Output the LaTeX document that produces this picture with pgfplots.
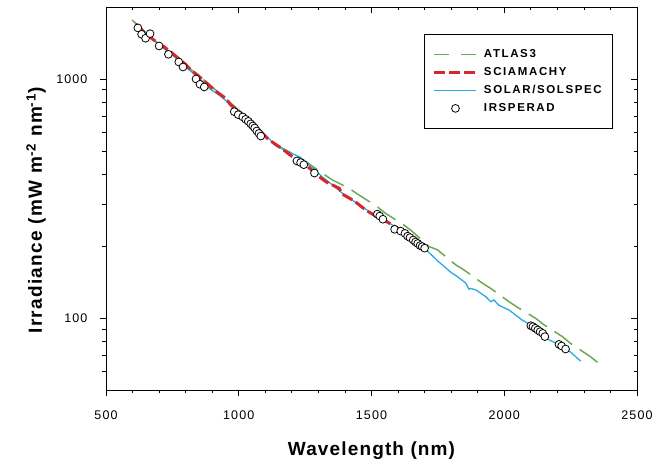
\documentclass[border=0pt]{standalone}
\usepackage{fontspec}
\setmainfont{Liberation Sans}
\newfontfamily\tickfont[LetterSpace=9]{Liberation Sans}
\newfontfamily\xlabfont[LetterSpace=6]{Liberation Sans}
\newfontfamily\ylabfont[LetterSpace=7]{Liberation Sans}
\newfontfamily\legfont[LetterSpace=14]{Liberation Sans}
\usepackage{pgfplots}
\pgfplotsset{compat=1.18}
\definecolor{atlas}{RGB}{110,168,84}
\definecolor{scia}{RGB}{214,38,46}
\definecolor{solspec}{RGB}{41,171,226}
\begin{document}
\begin{tikzpicture}
\useasboundingbox (-106pt,-73pt) rectangle (558pt,390pt);
% top / right inward ticks
\begin{axis}[
  at={(0pt,0pt)}, anchor=south west,
  scale only axis, width=531pt, height=383pt,
  xmin=500, xmax=2500, ymode=log, ymin=50, ymax=2000,
  xtick={500,1000,1500,2000,2500},
  minor x tick num=4,
  ytick={100,1000},
  minor ytick={60,70,80,90,200,300,400,500,600,700,800,900},
  major tick length=6pt, minor tick length=3.5pt,
  axis line style={line width=0.8pt},
  every tick/.style={black, line width=0.8pt},
  xtick pos=right, ytick pos=right, tick align=inside,
  xticklabels={}, yticklabels={}]
\end{axis}
\begin{axis}[
  at={(0pt,0pt)}, anchor=south west,
  scale only axis, width=531pt, height=383pt,
  xmin=500, xmax=2500, ymode=log, ymin=50, ymax=2000,
  xtick={500,1000,1500,2000,2500},
  minor x tick num=4,
  ytick={100,1000},
  minor ytick={60,70,80,90,200,300,400,500,600,700,800,900},
  major tick length=6pt, minor tick length=3.5pt,
  axis line style={line width=0.8pt},
  every tick/.style={black, line width=0.8pt},
  xtick pos=left, ytick pos=left, tick align=outside,
  xticklabels={500,1000,1500,2000,2500},
  yticklabels={100,1000},
  ticklabel style={font=\tickfont\fontsize{12.5}{14}\selectfont},
  xticklabel style={anchor=north, yshift=-11pt},
  yticklabel style={anchor=east, xshift=-9pt},
  xlabel={Wavelength (nm)},
  ylabel={Irradiance (mW m\textsuperscript{-2} nm\textsuperscript{-1})},
  xlabel style={font=\xlabfont\bfseries\fontsize{19}{22}\selectfont, at={(axis description cs:0.5,0)}, anchor=center, yshift=-61pt},
  ylabel style={font=\ylabfont\bfseries\fontsize{19}{22}\selectfont, at={(axis description cs:0,0.5)}, anchor=center, yshift=70pt, xshift=-12pt},
  legend cell align=left,
  legend style={at={(0.955,0.9295)}, anchor=north east,
    draw=black, line width=0.8pt,
    font=\legfont\bfseries\fontsize{11.5}{13}\selectfont,
    inner xsep=9pt, inner ysep=13.5pt, row sep=5pt,
    nodes={inner sep=2pt, text height=8pt, text depth=1pt},
    /tikz/every odd column/.append style={column sep=4pt}},
  legend image code/.code={\draw[mark repeat=2, mark phase=2, #1] plot coordinates {(0pt,0pt) (21pt,0pt) (42pt,0pt)};},
]
\addlegendimage{atlas, line width=1.5pt, dash pattern=on 15pt off 12pt}
\addlegendentry{ATLAS3}
\addlegendimage{scia, line width=3pt, dash pattern=on 11pt off 4pt}
\addlegendentry{SCIAMACHY}
\addlegendimage{solspec, line width=1.3pt}
\addlegendentry{SOLAR/SOLSPEC}
\addlegendimage{only marks, mark=*, mark size=3.9pt, mark options={fill=white, draw=black, line width=0.8pt, solid}}
\addlegendentry{IRSPERAD}

% ATLAS3
\addplot[forget plot, atlas, line width=1.5pt, dash pattern=on 22pt off 9pt] coordinates {
(598,1765) (650,1560) (700,1400) (750,1270) (800,1140) (850,1030) (900,925)
(950,830) (1000,740) (1050,660) (1100,580) (1139,530) (1227,473) (1315,403)
(1353,378) (1415,349) (1453,327) (1522,292) (1553,274) (1622,245) (1654,230)
(1717,199) (1748,193) (1817,167) (1848,159) (1917,140) (1949,133) (2018,117)
(2049,111) (2118,99.8) (2150,93.6) (2219,83.6) (2250,78.3) (2325,68.9) (2357,64.5)
};
% SOLAR/SOLSPEC
\addplot[forget plot, solspec, line width=1.3pt] coordinates {
(620,1640) (650,1530) (700,1390) (750,1260) (813,1091) (850,1010) (888,914)
(930,850) (963,791) (1000,735) (1050,650) (1101,583) (1139,525) (1180,500)
(1227,473) (1277,425) (1320,385) (1360,355) (1400,326) (1450,300) (1491,279)
(1530,266) (1600,236) (1650,218) (1700,196) (1750,173) (1800,155) (1820,150)
(1855,140) (1867,132) (1874,133) (1893,131) (1930,123) (1949,117) (1961,119)
(1980,113) (2018,108) (2068,98) (2100,93.5) (2130,89) (2169,81) (2200,78)
(2219,76) (2250,72) (2288,66)
};
% SCIAMACHY
\addplot[forget plot, scia, line width=3pt, dash pattern=on 11pt off 4pt] coordinates {
(612,1700) (650,1545) (700,1400) (718,1365) (750,1280) (800,1150) (819,1091)
(844,1039) (880,960) (907,899) (951,830) (970,778) (995,741) (1050,655)
(1100,575) (1114,556) (1152,521) (1177,497) (1202,473) (1250,440) (1300,392)
(1328,372) (1378,349) (1390,330) (1428,312) (1446,302) (1478,283) (1508,270)
(1527,264) (1560,252) (1600,237) (1650,218) (1690,200)
};
% IRSPERAD
\addplot[forget plot, only marks, mark=*, mark size=3.9pt, mark options={fill=white, draw=black, line width=0.8pt}] coordinates {
(620,1635) (634,1538) (649,1480) (666,1547) (700,1374) (735,1268) (774,1178)
(790,1122) (839,1000) (854,950) (870,926) (983,730) (998,709) (1015,694)
(1026,678) (1036,665) (1045,649) (1053,636) (1060,624) (1068,606) (1076,592)
(1083,577) (1219,454) (1233,447) (1245,438) (1285,404)
(1522,272) (1531,267) (1543,259) (1587,235) (1610,231) (1626,226) (1636,220)
(1645,217) (1657,212) (1666,208) (1674,205) (1683,201) (1691,199) (1700,196)
(2100,92.9) (2108,92.0) (2117,90.6) (2126,89.1) (2135,87.7) (2145,86.3) (2153,83.6)
(2206,77.6) (2216,76.4) (2231,74.2)
};
\end{axis}
\end{tikzpicture}
\end{document}
